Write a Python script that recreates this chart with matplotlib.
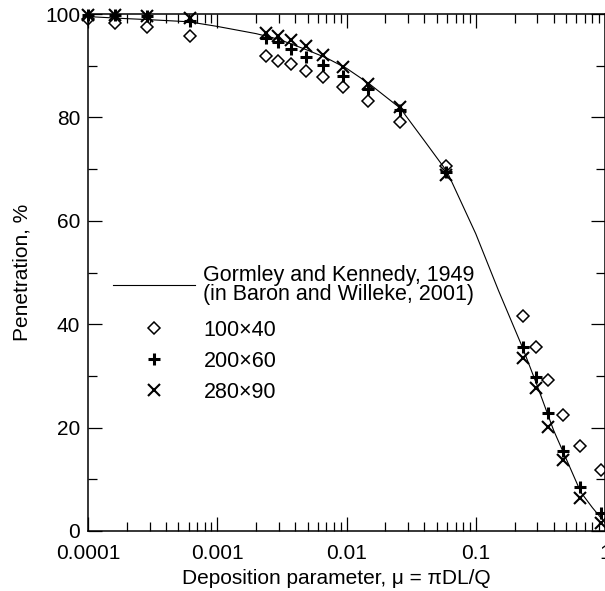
import matplotlib
matplotlib.use("Agg")
import matplotlib.pyplot as plt
from matplotlib.ticker import LogLocator, FixedLocator, NullFormatter, FixedFormatter

plt.rcParams['font.family'] = ['Liberation Sans', 'DejaVu Sans']

# Theoretical curve
curve_x = [1e-4, 2e-4, 3e-4, 6e-4, 1e-3, 2e-3, 3e-3, 5e-3, 7e-3, 1e-2, 1.5e-2,
           2.6e-2, 4e-2, 6e-2, 0.1, 0.15, 0.23, 0.3, 0.4, 0.5, 0.65, 0.8, 1.0]
curve_y = [99.5, 99.1, 98.9, 98.5, 97.6, 96.2, 95.1, 93.0, 91.5, 89.5, 86.5,
           81.8, 75.5, 69.5, 57.5, 46.5, 35.5, 28.0, 19.5, 14.0, 7.5, 4.5, 1.6]

# Measured data
mu = [1e-4, 1.62e-4, 2.84e-4, 6.15e-4, 2.4e-3, 2.97e-3, 3.7e-3, 4.85e-3, 6.6e-3,
      9.4e-3, 0.0147, 0.0259, 0.059, 0.232, 0.29, 0.363, 0.477, 0.645, 0.93]
p_100x40 = [99.0, 98.3, 97.5, 95.8, 91.9, 91.0, 90.3, 89.0, 87.8, 85.9, 83.2,
            79.2, 70.6, 41.5, 35.5, 29.2, 22.4, 16.4, 11.8]
p_200x60 = [99.8, 99.8, 99.6, 98.6, 95.3, 94.5, 93.2, 91.7, 90.1, 88.0, 85.4,
            81.4, 69.5, 35.6, 29.7, 22.8, 15.5, 8.6, 3.5]
p_280x90 = [99.8, 99.8, 99.7, 99.3, 96.4, 95.7, 95.0, 93.8, 92.1, 89.7, 86.5,
            82.0, 68.9, 33.4, 27.6, 20.2, 13.7, 6.3, 1.5]

labels = ["Gormley and Kennedy, 1949\n(in Baron and Willeke, 2001)",
          "100\u00d740", "200\u00d760", "280\u00d790"]
xtick_vals = [1e-4, 1e-3, 1e-2, 1e-1, 1]
xtick_labels = ["0.0001", "0.001", "0.01", "0.1", "1"]
ytick_vals = [0, 20, 40, 60, 80, 100]

fs = 15
lfs = 15.5
fig = plt.figure(figsize=(6.05, 5.91), dpi=100)
ax = fig.add_axes([88/605, 60/591, 1 - 88/605, (531 - 14)/591])
H = 517.0

l0, = ax.plot(curve_x, curve_y, color='black', lw=0.8, label=labels[0])
l1, = ax.plot(mu, p_100x40, linestyle='none', marker='D', ms=5.8, mfc='none',
              mec='black', mew=1.1, clip_on=False, label=labels[1])
l2, = ax.plot(mu, p_200x60, linestyle='none', marker='+', ms=8.5, mec='black',
              mew=2.2, clip_on=False, label=labels[2])
l3, = ax.plot(mu, p_280x90, linestyle='none', marker='x', ms=9, mec='black',
              mew=1.5, clip_on=False, label=labels[3])

ax.set_xscale('log')
ax.set_xlim(1e-4, 1)
ax.set_ylim(0, 100)

ax.xaxis.set_major_locator(FixedLocator(xtick_vals))
ax.xaxis.set_major_formatter(FixedFormatter(xtick_labels))
ax.xaxis.set_minor_locator(LogLocator(base=10, subs=range(2, 10)))
ax.xaxis.set_minor_formatter(NullFormatter())
ax.yaxis.set_major_locator(FixedLocator(ytick_vals))
ax.yaxis.set_minor_locator(FixedLocator([10, 30, 50, 70, 90]))

ax.tick_params(which='both', direction='in', top=True, right=True,
               labelsize=fs, width=0.9, color='black')
ax.tick_params(which='major', length=10)
ax.tick_params(which='minor', length=6.3)
ax.tick_params(axis='x', which='major', pad=9.5)
ax.tick_params(axis='y', which='major', pad=5.5)
for s in ax.spines.values():
    s.set_linewidth(1.1)

ax.set_xlabel("Deposition parameter, \u03bc = \u03c0DL/Q", fontsize=fs)
ax.set_ylabel("Penetration, %", fontsize=fs)
ax.xaxis.set_label_coords((336 - 88)/517, -(578 - 531)/H, transform=ax.transAxes)
ax.xaxis.label.set_va('center')
ax.yaxis.set_label_coords(-(88 - 22)/517, 0.5, transform=ax.transAxes)
ax.yaxis.label.set_va('center')

leg1 = ax.legend(handles=[l0], loc='upper left',
                 bbox_to_anchor=((113 - 88)/517, (531 - 265)/H),
                 frameon=False, fontsize=lfs, handlelength=3.8, handletextpad=0.4,
                 borderpad=0, borderaxespad=0)
leg1.get_texts()[0].set_linespacing(0.86)
ax.add_artist(leg1)

leg2 = ax.legend(handles=[l1, l2, l3], loc='upper left',
                 bbox_to_anchor=((113 - 88)/517, (531 - 320)/H),
                 frameon=False, fontsize=lfs, handlelength=3.8, handletextpad=0.4,
                 labelspacing=0.46, borderpad=0, borderaxespad=0, numpoints=1)

fig.savefig("out.png", dpi=100)
